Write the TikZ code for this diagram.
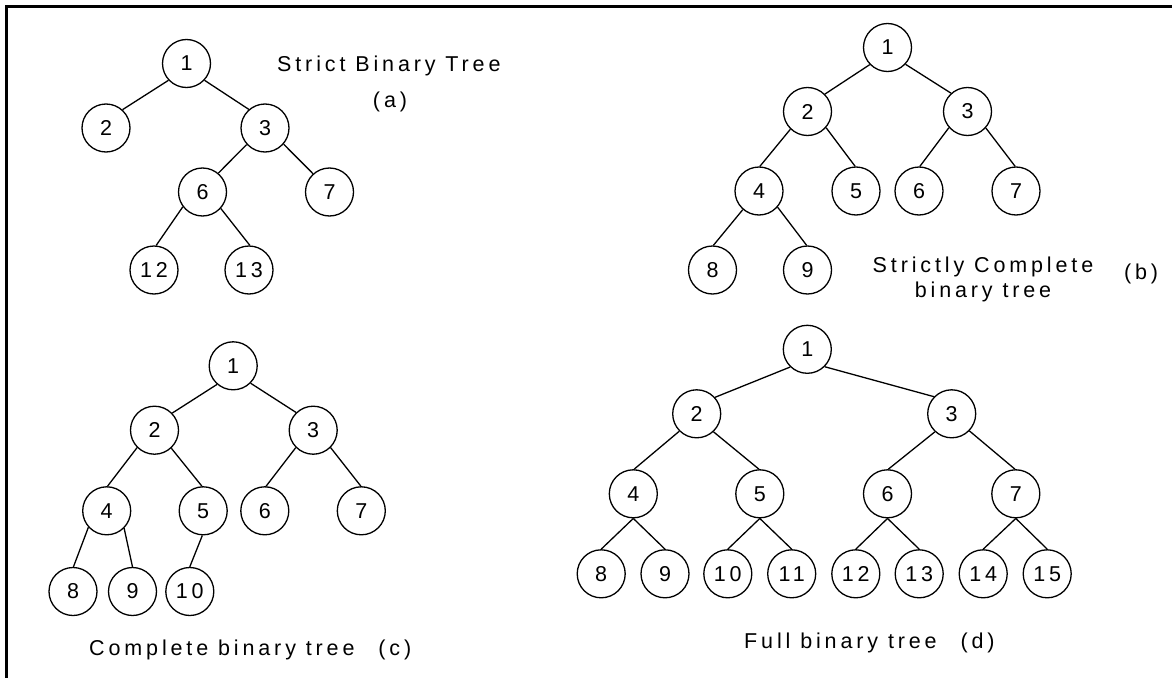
\documentclass[tikz,border=0pt]{standalone}
\usepackage{fontspec}
\setmainfont{Liberation Sans}
\newfontfamily\lblfont[LetterSpace=18]{Liberation Sans}
\begin{document}
\begin{tikzpicture}[x=1pt,y=-1pt,
  tn/.style={circle,draw,line width=1.3pt,minimum size=48pt,inner sep=0pt,
    font=\lblfont\fontsize{21.5}{24}\selectfont},
  lbl/.style={inner sep=0pt,font=\lblfont\fontsize{21.5}{24}\selectfont},
  edge/.style={line width=1.3pt}]
\useasboundingbox (0,0) rectangle (1172,677);
\fill[white] (0,0) rectangle (1172,677);
\draw[line width=3pt] (6.7,680) -- (6.7,6.7) -- (1175,6.7);

% (a)
\node[tn] (a1) at (186.5,63.5) {1};
\node[tn] (a2) at (106,128) {2};
\node[tn] (a3) at (265,128) {3};
\node[tn] (a6) at (202.5,192) {6};
\node[tn] (a7) at (329.5,192) {7};
\node[tn] (a12) at (154,270) {12};
\node[tn] (a13) at (249,270) {13};
\draw[edge] (a1.223) -- (a2.48);
\draw[edge] (a1.317) -- (a3.131);
\draw[edge] (a3.222) -- (a6.50);
\draw[edge] (a3.319) -- (a7.132);
\draw[edge] (a6.217) -- (a12.85);
\draw[edge] (a6.318) -- (a13.88);
\node[lbl,anchor=base west] (ta) at (277,71) {Strict Binary Tree};
\node[lbl,anchor=base] (tal) at (390,107.5) {(a)};

% (b)
\node[tn] (b1) at (887.5,47.5) {1};
\node[tn] (b2) at (807.5,111.5) {2};
\node[tn] (b3) at (967.5,111.5) {3};
\node[tn] (b4) at (759,191) {4};
\node[tn] (b5) at (856,191) {5};
\node[tn] (b6) at (919,191) {6};
\node[tn] (b7) at (1016,191) {7};
\node[tn] (b8) at (712.5,270) {8};
\node[tn] (b9) at (807.5,270) {9};
\draw[edge] (b1.224) -- (b2.45);
\draw[edge] (b1.317) -- (b3.132);
\draw[edge] (b2.226) -- (b4.88);
\draw[edge] (b2.319) -- (b5.92);
\draw[edge] (b3.221) -- (b6.88);
\draw[edge] (b3.318) -- (b7.92);
\draw[edge] (b4.229) -- (b8.88);
\draw[edge] (b4.319) -- (b9.92);
\node[lbl,anchor=base] (tb1) at (983,272) {Strictly Complete};
\node[lbl,anchor=base] (tb2) at (983,297) {binary tree};
\node[lbl,anchor=base] (tbl) at (1141,279) {(b)};

% (c)
\node[tn] (c1) at (233.2,365.8) {1};
\node[tn] (c2) at (154.5,430.2) {2};
\node[tn] (c3) at (313.2,430.2) {3};
\node[tn] (c4) at (106.7,510.8) {4};
\node[tn] (c5) at (203.2,510.8) {5};
\node[tn] (c6) at (264.8,510.8) {6};
\node[tn] (c7) at (361.3,510.8) {7};
\node[tn] (c8) at (73,591.5) {8};
\node[tn] (c9) at (132.5,591.5) {9};
\node[tn] (c10) at (189.8,591.5) {10};
\draw[edge] (c1.229) -- (c2.44);
\draw[edge] (c1.315) -- (c3.134);
\draw[edge] (c2.225) -- (c4.88);
\draw[edge] (c2.313) -- (c5.93);
\draw[edge] (c3.225) -- (c6.87);
\draw[edge] (c3.315) -- (c7.91);
\draw[edge] (c4.222) -- (c8.89);
\draw[edge] (c4.315) -- (c9.90);
\draw[edge] (c5.268) -- (c10.90);
\node[lbl,anchor=base west] (tc) at (89,655) {Complete binary tree\hspace{14pt} (c)};

% (d)
\node[tn] (d1) at (807.3,349.3) {1};
\node[tn] (d2) at (696.7,413.8) {2};
\node[tn] (d3) at (951.7,413.8) {3};
\node[tn] (d4) at (633.3,493.8) {4};
\node[tn] (d5) at (759.8,493.8) {5};
\node[tn] (d6) at (887.5,493.8) {6};
\node[tn] (d7) at (1015.8,493.8) {7};
\node[tn] (d8) at (601.2,573.8) {8};
\node[tn] (d9) at (665,573.8) {9};
\node[tn] (d10) at (727.8,573.8) {10};
\node[tn] (d11) at (791.7,573.8) {11};
\node[tn] (d12) at (855.8,573.8) {12};
\node[tn] (d13) at (919.2,573.8) {13};
\node[tn] (d14) at (983.2,573.8) {14};
\node[tn] (d15) at (1047.2,573.8) {15};
\draw[edge] (d1.226) -- (d2.42);
\draw[edge] (d1.315) -- (d3.136);
\draw[edge] (d2.225) -- (d4.88);
\draw[edge] (d2.313) -- (d5.92);
\draw[edge] (d3.227) -- (d6.88);
\draw[edge] (d3.316) -- (d7.92);
\draw[edge] (d4.south) -- (d8.north);
\draw[edge] (d4.south) -- (d9.north);
\draw[edge] (d5.south) -- (d10.north);
\draw[edge] (d5.south) -- (d11.north);
\draw[edge] (d6.south) -- (d12.north);
\draw[edge] (d6.south) -- (d13.north);
\draw[edge] (d7.south) -- (d14.north);
\draw[edge] (d7.south) -- (d15.north);
\node[lbl,anchor=base west] (td) at (744,648) {Full binary tree\hspace{14pt} (d)};
\end{tikzpicture}
\end{document}
